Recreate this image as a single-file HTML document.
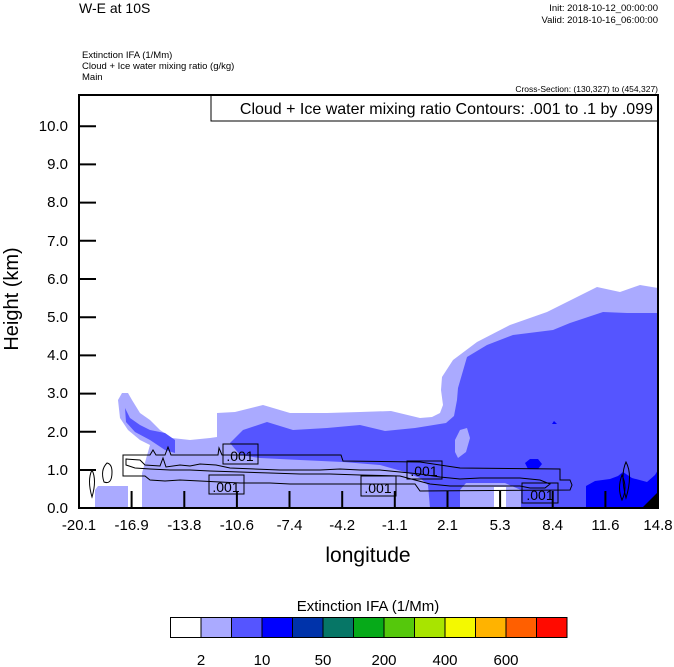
<!DOCTYPE html>
<html><head><meta charset="utf-8"><style>
html,body{margin:0;padding:0;background:#fff;}
svg{display:block;font-family:"Liberation Sans",Arial,sans-serif;}
</style></head><body>
<svg width="674" height="667" viewBox="0 0 674 667" xmlns="http://www.w3.org/2000/svg">
<rect width="674" height="667" fill="#fff"/>
<text x="79" y="13" font-size="14">W-E at 10S</text>
<text x="658" y="11" font-size="9.5" text-anchor="end">Init: 2018-10-12_00:00:00</text>
<text x="658" y="23" font-size="9.5" text-anchor="end">Valid: 2018-10-16_06:00:00</text>
<text x="82" y="58" font-size="9.5">Extinction IFA   (1/Mm)</text>
<text x="82" y="69" font-size="9.5">Cloud + Ice water mixing ratio   (g/kg)</text>
<text x="82" y="80" font-size="9.5">Main</text>
<text x="658" y="92" font-size="8.5" text-anchor="end">Cross-Section: (130,327) to (454,327)</text>

<!-- light blue -->
<path fill="#aaaaff" d="M118,400 L122,393 L128,393 L132,400 L140,413 L150,420 L160,430 L172,438 L190,440 L210,438 L217,437 L217,413 L235,412 L263,405 L290,413 L327,413 L360,412 L391,411 L420,418 L432,417 L440,413 L443,405 L441,390 L442,377 L453,360 L477,342 L510,325 L547,312 L577,297 L597,287 L620,292 L640,285 L658,288 L658,508 L142,508 L142,473 L150,445 L140,440 L128,430 L120,418 Z"/>
<path fill="#aaaaff" d="M95,490 L98,486 L128,486 L128,508 L95,508 Z"/>
<!-- medium blue -->
<path fill="#5555ff" d="M125,408 L130,418 L140,425 L150,430 L165,433 L175,440 L175,453 L165,450 L150,440 L135,432 L126,422 Z"/>
<path fill="#5555ff" d="M230,443 L243,430 L267,422 L293,430 L327,428 L360,425 L385,431 L415,428 L446,423 L454,416 L457,400 L458,388 L467,357 L487,345 L513,335 L553,330 L570,323 L603,312 L627,313 L658,313 L658,508 L521,508 L521,490 L505,483 L466,483 L460,490 L460,508 L430,508 L428,485 L420,478 L405,472 L380,465 L343,462 L300,460 L260,458 L240,455 Z"/>
<path fill="#aaaaff" d="M455,440 L460,430 L467,428 L470,438 L466,452 L458,458 L455,452 Z"/>
<path fill="#fff" d="M494,487 L506,487 L506,508 L494,508 Z"/>
<!-- pure blue -->
<path fill="#0000ff" d="M586,508 L586,486 L595,481 L610,479 L618,476 L623,472 L632,478 L647,482 L655,475 L658,470 L658,508 Z"/>
<path fill="#0000ff" d="M525,463 L530,459 L538,459 L542,464 L538,469 L528,469 Z"/>
<path fill="#0000ff" d="M552,424 L554,421 L557,424 Z"/>
<path fill="#000" d="M642,508 L650,500 L658,492 L658,508 Z"/>

<!-- contours -->
<g fill="none" stroke="#000" stroke-width="1">
<path d="M123,455 L150,455 L153,450 L156,455 L165,455 L168,447 L171,455 L200,455 L218,455 L219,448 L222,455 L341,455 L343,461 L420,462 L460,468 L560,469 L560,480 L570,480 L572,485 L570,490 L420,491 L415,484 L360,484 L330,484 L300,484 L290,484 L270,483 L240,483 L200,481 L180,480 L165,481 L150,480 L145,476 L123,476 Z"/>
<path d="M126,459 L140,460 L145,465 L160,466 L163,458 L166,467 L180,465 L190,466 L200,464 L216,465 L230,468 L280,470 L320,470 L340,469 L360,470 L380,470 L400,472 L420,474 L440,477 L460,479 L480,478 L510,478 L520,478 L540,480 L550,484 L545,488 L530,488 L520,486 L505,486 L480,486 L450,486 L430,484 L415,480 L400,476 L360,475 L330,474 L300,474 L270,473 L240,472 L210,471 L190,470 L170,470 L150,469 L135,468 L126,465 Z"/>
<path d="M92,470 Q87,480 92,497 Q97,480 92,470 Z"/>
<path d="M107,463 Q100,470 104,482 Q112,485 112,472 Q112,464 107,463 Z"/>
<path d="M626,462 Q620,475 626,498 Q633,475 626,462 Z"/>
<path d="M622,475 Q617,488 622,500 Q628,488 622,475 Z"/>
</g>
<g font-size="14" text-anchor="middle">
<rect x="223" y="444" width="35" height="20" fill="none" stroke="#000"/><text x="240" y="461">.001</text>
<rect x="209" y="475" width="35" height="19" fill="none" stroke="#000"/><text x="226" y="492">.001</text>
<rect x="361" y="476" width="35" height="20" fill="none" stroke="#000"/><text x="378" y="493">.001</text>
<rect x="407" y="461" width="35" height="18" fill="none" stroke="#000"/><text x="424" y="476">.001</text>
<rect x="522" y="483" width="36" height="20" fill="none" stroke="#000"/><text x="540" y="500">.001</text>
</g>

<!-- title box -->
<rect x="211" y="95" width="447" height="26" fill="#fff" stroke="#000"/>
<text x="653" y="114" font-size="16" text-anchor="end">Cloud + Ice water mixing ratio Contours: .001 to .1 by .099</text>

<!-- axes -->
<rect x="79" y="95" width="579" height="413" fill="none" stroke="#000" stroke-width="2"/>
<g stroke="#000" stroke-width="2">
<line x1="79" y1="126.2" x2="96" y2="126.2"/><line x1="79" y1="164.4" x2="96" y2="164.4"/><line x1="79" y1="202.6" x2="96" y2="202.6"/><line x1="79" y1="240.8" x2="96" y2="240.8"/><line x1="79" y1="279" x2="96" y2="279"/><line x1="79" y1="317.2" x2="96" y2="317.2"/><line x1="79" y1="355.4" x2="96" y2="355.4"/><line x1="79" y1="393.6" x2="96" y2="393.6"/><line x1="79" y1="431.8" x2="96" y2="431.8"/><line x1="79" y1="470" x2="96" y2="470"/>
<line x1="131.6" y1="508" x2="131.6" y2="491"/><line x1="184.3" y1="508" x2="184.3" y2="491"/><line x1="236.9" y1="508" x2="236.9" y2="491"/><line x1="289.5" y1="508" x2="289.5" y2="491"/><line x1="342.2" y1="508" x2="342.2" y2="491"/><line x1="394.8" y1="508" x2="394.8" y2="491"/><line x1="447.5" y1="508" x2="447.5" y2="491"/><line x1="500.1" y1="508" x2="500.1" y2="491"/><line x1="552.7" y1="508" x2="552.7" y2="491"/><line x1="605.4" y1="508" x2="605.4" y2="491"/>
</g>
<g font-size="15" text-anchor="end">
<text x="68" y="131">10.0</text><text x="68" y="169">9.0</text><text x="68" y="207">8.0</text><text x="68" y="246">7.0</text><text x="68" y="284">6.0</text><text x="68" y="322">5.0</text><text x="68" y="360">4.0</text><text x="68" y="398">3.0</text><text x="68" y="437">2.0</text><text x="68" y="475">1.0</text><text x="68" y="513">0.0</text>
</g>
<g font-size="15" text-anchor="middle">
<text x="79" y="530">-20.1</text><text x="131.6" y="530">-16.9</text><text x="184.3" y="530">-13.8</text><text x="236.9" y="530">-10.6</text><text x="289.5" y="530">-7.4</text><text x="342.2" y="530">-4.2</text><text x="394.8" y="530">-1.1</text><text x="447.5" y="530">2.1</text><text x="500.1" y="530">5.3</text><text x="552.7" y="530">8.4</text><text x="605.4" y="530">11.6</text><text x="658" y="530">14.8</text>
</g>
<text x="368" y="562" font-size="21" text-anchor="middle">longitude</text>
<text transform="translate(18,299) rotate(-90)" font-size="20" text-anchor="middle">Height (km)</text>

<!-- colorbar -->
<text x="368" y="611" font-size="15" text-anchor="middle">Extinction IFA  (1/Mm)</text>
<g stroke="#000" stroke-width="1">
<rect x="170.5" y="617.5" width="30.5" height="20" fill="#ffffff"/>
<rect x="201" y="617.5" width="30.5" height="20" fill="#aaaaff"/>
<rect x="231.5" y="617.5" width="30.5" height="20" fill="#5555ff"/>
<rect x="262" y="617.5" width="30.5" height="20" fill="#0000ff"/>
<rect x="292.5" y="617.5" width="30.5" height="20" fill="#0033aa"/>
<rect x="323" y="617.5" width="30.5" height="20" fill="#067666"/>
<rect x="353.5" y="617.5" width="30.5" height="20" fill="#06aa19"/>
<rect x="384" y="617.5" width="30.5" height="20" fill="#55c80c"/>
<rect x="414.5" y="617.5" width="30.5" height="20" fill="#a8e400"/>
<rect x="445" y="617.5" width="30.5" height="20" fill="#f4f900"/>
<rect x="475.5" y="617.5" width="30.5" height="20" fill="#ffb300"/>
<rect x="506" y="617.5" width="30.5" height="20" fill="#ff5f00"/>
<rect x="536.5" y="617.5" width="30.5" height="20" fill="#ff0a00"/>
</g>
<g font-size="15" text-anchor="middle">
<text x="201" y="665">2</text><text x="262" y="665">10</text><text x="323" y="665">50</text><text x="384" y="665">200</text><text x="445" y="665">400</text><text x="506" y="665">600</text>
</g>
</svg>
</body></html>
